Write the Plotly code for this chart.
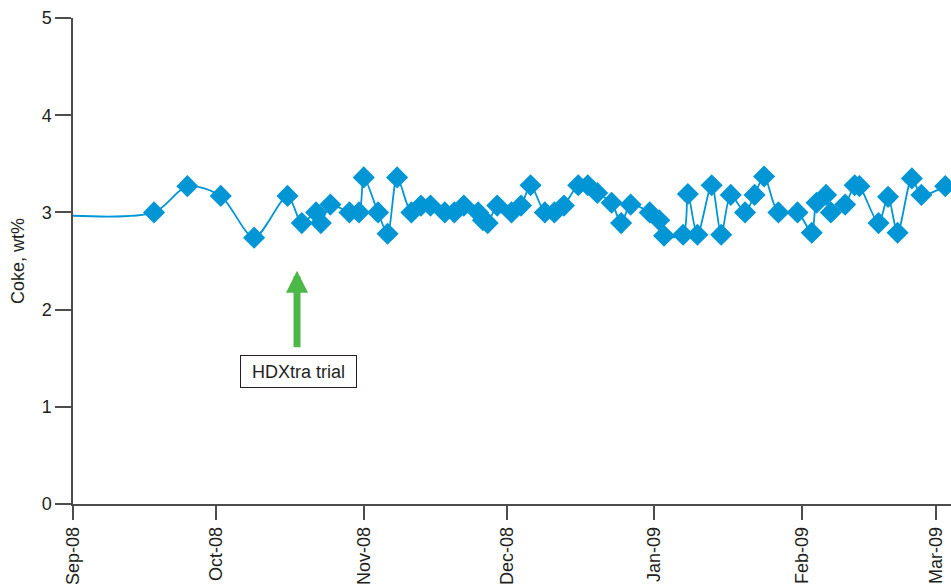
import plotly.graph_objects as go

dates = ["2008-08-30", "2008-09-18", "2008-09-25", "2008-10-02", "2008-10-09", "2008-10-16",
         "2008-10-19", "2008-10-22", "2008-10-23", "2008-10-25", "2008-10-29", "2008-10-31",
         "2008-11-01", "2008-11-04", "2008-11-06", "2008-11-08", "2008-11-11", "2008-11-13",
         "2008-11-15", "2008-11-18", "2008-11-20", "2008-11-22", "2008-11-25", "2008-11-26",
         "2008-11-27", "2008-11-29", "2008-12-02", "2008-12-04", "2008-12-06", "2008-12-09",
         "2008-12-11", "2008-12-13", "2008-12-16", "2008-12-18", "2008-12-20", "2008-12-23",
         "2008-12-25", "2008-12-27", "2008-12-31", "2009-01-02", "2009-01-03", "2009-01-07",
         "2009-01-08", "2009-01-10", "2009-01-13", "2009-01-15", "2009-01-17", "2009-01-20",
         "2009-01-22", "2009-01-24", "2009-01-27", "2009-01-31", "2009-02-03", "2009-02-04",
         "2009-02-06", "2009-02-07", "2009-02-10", "2009-02-12", "2009-02-13", "2009-02-17",
         "2009-02-19", "2009-02-21", "2009-02-24", "2009-02-26", "2009-03-03"]

coke = [2.97, 3.0, 3.27, 3.17, 2.74, 3.17, 2.89, 3.0, 2.89, 3.08, 3.0, 3.0,
        3.36, 3.0, 2.78, 3.36, 3.0, 3.07, 3.07, 3.0, 3.0, 3.07, 3.0, 2.92,
        2.89, 3.07, 3.0, 3.07, 3.28, 3.0, 3.0, 3.07, 3.28, 3.28, 3.2, 3.1,
        2.89, 3.08, 3.0, 2.92, 2.76, 2.77, 3.19, 2.77, 3.28, 2.77, 3.18, 3.0,
        3.18, 3.37, 3.0, 3.0, 2.79, 3.1, 3.18, 3.0, 3.08, 3.28, 3.27, 2.89,
        3.16, 2.79, 3.35, 3.18, 3.27]

# first reading is a line-only starting value (no marker drawn)
has_marker = [False] + [True] * (len(coke) - 1)

trial_date = "2008-10-18"
trial_label = "HDXtra trial"

blue = "#0096d6"
axis_col = "#4d4d4d"
font_family = "Liberation Sans, Arial, sans-serif"

fig = go.Figure()
fig.add_trace(go.Scatter(
    x=dates, y=coke, mode="lines+markers",
    line=dict(color=blue, width=1.8, shape="spline", smoothing=0.8),
    marker=dict(symbol="diamond", color=blue, opacity=1,
                size=[17 if m else 0 for m in has_marker], line=dict(width=0)),
    showlegend=False,
))

# green arrow
fig.add_annotation(
    x=trial_date, y=2.40, xref="x", yref="y", text="", showarrow=True,
    ax=0, ay=78, axref="pixel", ayref="pixel",
    arrowhead=2, arrowsize=0.63, arrowwidth=7, arrowcolor="#4cb848",
)
# label box
fig.add_annotation(
    x=trial_date, y=1.36, xref="x", yref="y", text=trial_label, showarrow=False,
    xshift=1, width=113, height=29, borderpad=1, borderwidth=1,
    bordercolor="#231f20", bgcolor="white",
    font=dict(family=font_family, size=18, color="#231f20"),
)

fig.update_layout(
    width=951, height=584,
    margin=dict(l=73, r=0, t=18, b=80, pad=0),
    plot_bgcolor="white", paper_bgcolor="white",
    font=dict(family=font_family, size=18, color="#231f20"),
    xaxis=dict(
        type="date", range=["2008-09-01", "2009-03-04 05:00"], automargin=False,
        tick0="2008-09-01", dtick="M1", tickformat="%b-%y", tickangle=-90,
        ticks="outside", ticklen=14, tickwidth=1.5, tickcolor=axis_col,
        showline=True, linecolor=axis_col, linewidth=1.5,
        showgrid=False, zeroline=False,
    ),
    yaxis=dict(
        range=[0, 5], dtick=1, tick0=0, automargin=False,
        ticks="outside", ticklen=16, tickwidth=1.5, tickcolor=axis_col,
        showline=True, linecolor=axis_col, linewidth=1.5,
        showgrid=False, zeroline=False,
        title=dict(text="Coke, wt%", standoff=12, font=dict(size=18)),
    ),
)

fig.write_html(
    "out.html",
    config={"displayModeBar": False},
    post_script="document.body.style.margin='0';document.body.style.overflow='hidden';",
)
